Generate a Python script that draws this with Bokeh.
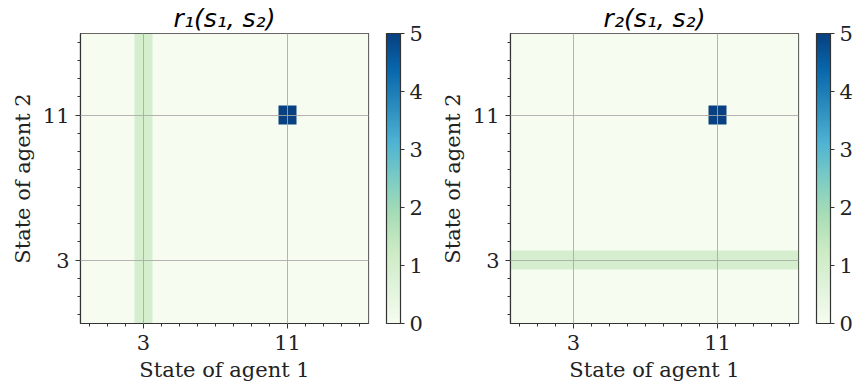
import numpy as np
from bokeh.plotting import figure
from bokeh.models import LinearColorMapper, ColorBar, FixedTicker
from bokeh.layouts import row
from bokeh.palettes import GnBu9
from bokeh.embed import file_html
from bokeh.resources import INLINE

# ---------------- data ----------------
states = list(range(16))          # states of each agent (0..15)
x_ticks = [3, 11]
y_ticks = [3, 11]
cbar_ticks = [0, 1, 2, 3, 4, 5]
value_low, value_high = 0, 5

titles = ["r₁(s₁, s₂)", "r₂(s₁, s₂)"]
x_label = "State of agent 1"
y_label = "State of agent 2"

# r1[s2][s1]  (row = state of agent 2, column = state of agent 1)
r1 = [
    [0, 0, 0, 1, 0, 0, 0, 0, 0, 0, 0, 0, 0, 0, 0, 0],  # s2 = 0
    [0, 0, 0, 1, 0, 0, 0, 0, 0, 0, 0, 0, 0, 0, 0, 0],  # s2 = 1
    [0, 0, 0, 1, 0, 0, 0, 0, 0, 0, 0, 0, 0, 0, 0, 0],  # s2 = 2
    [0, 0, 0, 1, 0, 0, 0, 0, 0, 0, 0, 0, 0, 0, 0, 0],  # s2 = 3
    [0, 0, 0, 1, 0, 0, 0, 0, 0, 0, 0, 0, 0, 0, 0, 0],  # s2 = 4
    [0, 0, 0, 1, 0, 0, 0, 0, 0, 0, 0, 0, 0, 0, 0, 0],  # s2 = 5
    [0, 0, 0, 1, 0, 0, 0, 0, 0, 0, 0, 0, 0, 0, 0, 0],  # s2 = 6
    [0, 0, 0, 1, 0, 0, 0, 0, 0, 0, 0, 0, 0, 0, 0, 0],  # s2 = 7
    [0, 0, 0, 1, 0, 0, 0, 0, 0, 0, 0, 0, 0, 0, 0, 0],  # s2 = 8
    [0, 0, 0, 1, 0, 0, 0, 0, 0, 0, 0, 0, 0, 0, 0, 0],  # s2 = 9
    [0, 0, 0, 1, 0, 0, 0, 0, 0, 0, 0, 0, 0, 0, 0, 0],  # s2 = 10
    [0, 0, 0, 1, 0, 0, 0, 0, 0, 0, 0, 5, 0, 0, 0, 0],  # s2 = 11
    [0, 0, 0, 1, 0, 0, 0, 0, 0, 0, 0, 0, 0, 0, 0, 0],  # s2 = 12
    [0, 0, 0, 1, 0, 0, 0, 0, 0, 0, 0, 0, 0, 0, 0, 0],  # s2 = 13
    [0, 0, 0, 1, 0, 0, 0, 0, 0, 0, 0, 0, 0, 0, 0, 0],  # s2 = 14
    [0, 0, 0, 1, 0, 0, 0, 0, 0, 0, 0, 0, 0, 0, 0, 0],  # s2 = 15
]

r2 = [
    [0, 0, 0, 0, 0, 0, 0, 0, 0, 0, 0, 0, 0, 0, 0, 0],  # s2 = 0
    [0, 0, 0, 0, 0, 0, 0, 0, 0, 0, 0, 0, 0, 0, 0, 0],  # s2 = 1
    [0, 0, 0, 0, 0, 0, 0, 0, 0, 0, 0, 0, 0, 0, 0, 0],  # s2 = 2
    [1, 1, 1, 1, 1, 1, 1, 1, 1, 1, 1, 1, 1, 1, 1, 1],  # s2 = 3
    [0, 0, 0, 0, 0, 0, 0, 0, 0, 0, 0, 0, 0, 0, 0, 0],  # s2 = 4
    [0, 0, 0, 0, 0, 0, 0, 0, 0, 0, 0, 0, 0, 0, 0, 0],  # s2 = 5
    [0, 0, 0, 0, 0, 0, 0, 0, 0, 0, 0, 0, 0, 0, 0, 0],  # s2 = 6
    [0, 0, 0, 0, 0, 0, 0, 0, 0, 0, 0, 0, 0, 0, 0, 0],  # s2 = 7
    [0, 0, 0, 0, 0, 0, 0, 0, 0, 0, 0, 0, 0, 0, 0, 0],  # s2 = 8
    [0, 0, 0, 0, 0, 0, 0, 0, 0, 0, 0, 0, 0, 0, 0, 0],  # s2 = 9
    [0, 0, 0, 0, 0, 0, 0, 0, 0, 0, 0, 0, 0, 0, 0, 0],  # s2 = 10
    [0, 0, 0, 0, 0, 0, 0, 0, 0, 0, 0, 5, 0, 0, 0, 0],  # s2 = 11
    [0, 0, 0, 0, 0, 0, 0, 0, 0, 0, 0, 0, 0, 0, 0, 0],  # s2 = 12
    [0, 0, 0, 0, 0, 0, 0, 0, 0, 0, 0, 0, 0, 0, 0, 0],  # s2 = 13
    [0, 0, 0, 0, 0, 0, 0, 0, 0, 0, 0, 0, 0, 0, 0, 0],  # s2 = 14
    [0, 0, 0, 0, 0, 0, 0, 0, 0, 0, 0, 0, 0, 0, 0, 0],  # s2 = 15
]

# ---------------- styling helpers ----------------
def interp_palette(colors, n=256):
    rgb = np.array([[int(c[i:i + 2], 16) for i in (1, 3, 5)] for c in colors], dtype=float)
    pos = np.linspace(0, 1, len(colors))
    t = np.linspace(0, 1, n)
    out = []
    for k in range(n):
        r = np.interp(t[k], pos, rgb[:, 0])
        g = np.interp(t[k], pos, rgb[:, 1])
        b = np.interp(t[k], pos, rgb[:, 2])
        out.append("#%02x%02x%02x" % (int(round(r)), int(round(g)), int(round(b))))
    return out

palette = interp_palette(list(reversed(GnBu9)))
mapper = LinearColorMapper(palette=palette, low=value_low, high=value_high)

SERIF = "DejaVu Serif"
FS = "21px"
DARK = "#333333"


def make_panel(mat, title_text, width):
    lo = states[0] - 0.5
    hi = states[-1] + 0.5
    p = figure(width=width, height=385, x_range=(lo, hi), y_range=(lo, hi),
               output_backend="svg", toolbar_location=None,
               min_border_left=80, min_border_right=width - 80 - 288,
               min_border_top=33, min_border_bottom=62)
    p.image(image=[np.array(mat, dtype=float)], x=lo, y=lo,
            dw=len(states), dh=len(states), color_mapper=mapper)

    p.title.text = title_text
    p.title.align = "center"
    p.title.text_font = "DejaVu Sans"
    p.title.text_font_style = "italic"
    p.title.text_font_size = "25px"
    p.title.text_color = "black"
    p.title.standoff = 2

    p.xaxis.ticker = FixedTicker(ticks=x_ticks, minor_ticks=states)
    p.yaxis.ticker = FixedTicker(ticks=y_ticks, minor_ticks=states)
    p.xaxis.axis_label = x_label
    p.yaxis.axis_label = y_label
    for ax in (p.xaxis[0], p.yaxis[0]):
        ax.axis_label_text_font = SERIF
        ax.axis_label_text_font_style = "normal"
        ax.axis_label_text_font_size = FS
        ax.axis_label_text_color = "#222222"
        ax.major_label_text_font = SERIF
        ax.major_label_text_font_size = FS
        ax.major_label_text_color = "#222222"
        ax.major_tick_in = 0
        ax.major_tick_out = 5
        ax.minor_tick_in = 0
        ax.minor_tick_out = 3
        ax.major_tick_line_color = DARK
        ax.minor_tick_line_color = DARK
        ax.axis_line_color = DARK
        ax.axis_line_width = 1.2
        ax.major_label_standoff = 6
        ax.axis_label_standoff = 5

    p.outline_line_color = DARK
    p.outline_line_width = 1.2
    p.outline_line_alpha = 1.0

    p.grid.grid_line_color = "#a8a8a8"
    p.grid.grid_line_alpha = 0.85
    p.grid.grid_line_width = 1
    p.grid.level = "overlay"

    cb = ColorBar(color_mapper=mapper, ticker=FixedTicker(ticks=cbar_ticks),
                  width=14, height=290, padding=0, margin=0, location=(18, 0),
                  major_label_text_font=SERIF, major_label_text_font_size=FS,
                  major_label_text_color="#222222",
                  major_tick_in=0, major_tick_out=4, major_tick_line_color=DARK,
                  bar_line_color=DARK, bar_line_width=1.2,
                  border_line_color=None, background_fill_alpha=0,
                  label_standoff=5)
    p.add_layout(cb, "right")
    return p


p1 = make_panel(r1, titles[0], 430)
p2 = make_panel(r2, titles[1], 431)
layout = row(p1, p2, spacing=0)

open("out.html", "w").write(file_html(layout, INLINE))
